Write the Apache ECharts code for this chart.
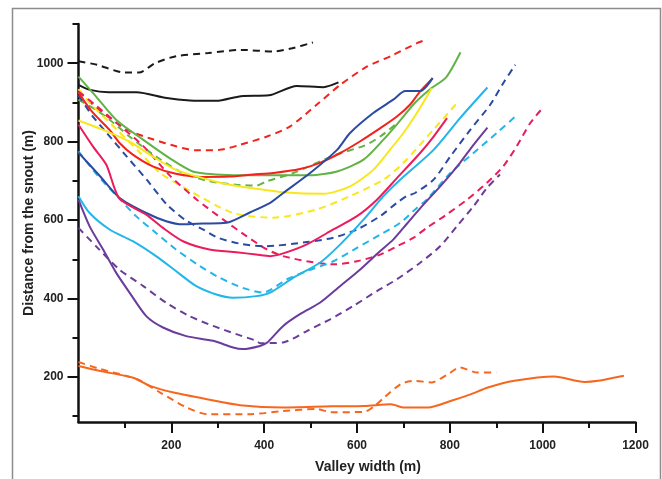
<!DOCTYPE html>
<html>
<head>
<meta charset="utf-8">
<script src="https://cdn.jsdelivr.net/npm/echarts@6/dist/echarts.min.js"></script>
<style>
  html, body { margin: 0; padding: 0; background: #fff; }
  #chart { width: 662px; height: 479px; }
</style>
</head>
<body>
<div id="chart"></div>
<script>
// axis ticks
const xMajor = [200, 400, 600, 800, 1000, 1200]
const xMinor = [100, 300, 500, 700, 900, 1100]
const yMajor = [200, 400, 600, 800, 1000]
const yMinor = [100, 300, 500, 700, 900, 1100]

// profiles: [valley width, distance from snout]
const blackDash = [[0,1005],[40,996],[100,976],[130,976],[165,1000],[210,1018],[280,1026],[350,1034],[420,1030],[460,1038],[505,1053]]
const blackSolid = [[0,945],[25,932],[65,926],[125,926],[190,911],[240,905],[297,904],[350,916],[410,918],[470,942],[528,939],[560,951]]
const redDash = [[0,928],[40,885],[83,847],[112,826],[160,806],[210,788],[253,778],[304,779],[348,792],[406,813],[456,839],[513,894],[564,945],[621,991],[678,1021],[729,1051],[752,1061]]
const redSolid = [[0,925],[30,875],[67,830],[89,796],[117,767],[160,737],[210,718],[268,710],[325,711],[376,716],[420,720],[477,730],[520,746],[564,771],[607,801],[651,835],[686,864],[714,894],[736,928],[763,962]]
const greenSolid = [[0,966],[38,915],[81,856],[139,805],[196,758],[246,724],[297,716],[348,714],[499,714],[557,724],[614,754],[657,805],[688,847],[724,898],[760,936],[792,964],[823,1028]]
const greenDash = [[0,907],[38,881],[67,856],[110,813],[167,762],[225,720],[282,699],[340,690],[383,688],[406,699],[463,720],[551,765],[616,790],[650,813],[684,845]]
const yellowSolid = [[0,854],[53,830],[110,800],[160,762],[210,728],[268,707],[325,690],[383,680],[441,671],[528,667],[585,686],[635,728],[671,779],[700,822],[730,875],[761,936]]
const yellowDash = [[0,934],[25,898],[83,830],[130,775],[176,720],[248,669],[333,618],[420,606],[513,627],[585,661],[657,703],[700,746],[765,831],[819,903]]
const blueSolid = [[0,772],[47,711],[88,657],[146,618],[189,597],[225,589],[268,591],[318,593],[370,620],[413,644],[441,669],[499,720],[557,779],[585,822],[635,873],[678,907],[704,929],[736,929],[763,962]]
const blueDash = [[0,918],[31,864],[61,822],[104,762],[147,703],[190,640],[230,600],[270,575],[300,555],[347,540],[400,533],[492,544],[549,555],[600,576],[650,610],[686,644],[707,661],[725,669],[765,703],[801,762],[844,830],[887,894],[915,949],[941,996]]
const crimsonSolid = [[0,843],[31,788],[60,741],[88,655],[146,614],[182,580],[225,546],[282,525],[340,518],[383,512],[413,508],[441,515],[492,538],[549,576],[600,610],[643,652],[686,707],[736,771],[765,813],[794,860]]
const crimsonDash = [[0,928],[40,890],[83,847],[140,788],[198,712],[255,652],[312,601],[362,559],[406,525],[441,508],[492,495],[549,487],[600,495],[650,512],[686,533],[722,555],[750,580],[793,614],[837,652],[880,695],[915,737],[944,788],[973,847],[998,883]]
const cyanSolid = [[0,661],[24,618],[67,576],[117,546],[167,508],[210,470],[253,432],[297,410],[333,402],[383,406],[413,415],[463,453],[520,491],[564,538],[614,601],[657,661],[693,703],[765,779],[822,860],[881,938]]
const cyanDash = [[0,775],[40,715],[83,661],[124,610],[167,567],[210,525],[261,483],[304,453],[354,427],[398,415],[449,449],[492,470],[549,495],[600,529],[650,563],[693,593],[729,631],[750,652],[801,720],[851,771],[901,822],[941,864]]
const purpleSolid = [[0,652],[24,584],[53,525],[81,466],[110,415],[146,355],[182,326],[232,304],[290,292],[333,275],[354,271],[391,279],[406,287],[441,330],[477,360],[520,389],[564,432],[607,474],[650,521],[678,550],[707,590],[736,630],[786,695],[822,746],[851,792],[881,836]]
const purpleDash = [[0,580],[38,533],[88,474],[139,432],[189,389],[239,355],[290,330],[340,309],[383,292],[391,286],[441,288],[492,317],[542,347],[592,381],[643,419],[686,449],[736,491],[779,533],[815,584],[851,635],[880,682],[908,716]]
const orangeSolid = [[0,228],[47,215],[118,198],[154,177],[205,160],[277,143],[348,128],[441,122],[544,125],[616,126],[673,130],[702,122],[753,122],[803,139],[846,156],[882,173],[939,190],[1025,201],[1090,187],[1119,190],[1175,203]]
const orangeDash = [[0,238],[47,220],[126,194],[176,160],[233,122],[277,105],[370,105],[441,113],[513,118],[544,110],[616,111],[638,126],[659,148],[695,182],[724,190],[760,186],[796,207],[821,224],[860,211],[900,211]]

const profiles = [
  { data: blackDash, color: '#1a1a1a', dashed: true },
  { data: blackSolid, color: '#1a1a1a', dashed: false },
  { data: redDash, color: '#f2231c', dashed: true },
  { data: greenDash, color: '#62b346', dashed: true },
  { data: yellowDash, color: '#f8e71c', dashed: true },
  { data: crimsonDash, color: '#ea1c5c', dashed: true },
  { data: blueDash, color: '#2b4ba3', dashed: true },
  { data: cyanDash, color: '#22b5ea', dashed: true },
  { data: purpleDash, color: '#6b3c9b', dashed: true },
  { data: orangeDash, color: '#f7661f', dashed: true },
  { data: greenSolid, color: '#62b346', dashed: false },
  { data: redSolid, color: '#f2231c', dashed: false },
  { data: yellowSolid, color: '#f8e71c', dashed: false },
  { data: blueSolid, color: '#2b4ba3', dashed: false },
  { data: crimsonSolid, color: '#ea1c5c', dashed: false },
  { data: cyanSolid, color: '#22b5ea', dashed: false },
  { data: purpleSolid, color: '#6b3c9b', dashed: false },
  { data: orangeSolid, color: '#f7661f', dashed: false }
]

const labelFont = { color: '#222', fontWeight: 'bold', fontSize: 12, fontFamily: 'Liberation Sans, Arial, sans-serif' }
const nameFont = { color: '#222', fontWeight: 'bold', fontSize: 14, fontFamily: 'Liberation Sans, Arial, sans-serif' }
const axisLineStyle = { color: '#111', width: 2.5 }
const plain = v => String(v)

const chart = echarts.init(document.getElementById('chart'))
chart.setOption({
  animation: false,
  backgroundColor: '#fff',
  graphic: [{
    type: 'rect',
    shape: { x: 12.5, y: 8.5, width: 648, height: 480 },
    style: { fill: 'none', stroke: '#8c8c8c', lineWidth: 1.5 },
    silent: true
  }],
  grid: { left: 78.5, right: 26.5, top: 24, bottom: 56 },
  xAxis: [{
    type: 'value', min: 0, max: 1200,
    axisLine: { show: true, lineStyle: axisLineStyle },
    axisTick: { show: true, length: 11, lineStyle: { color: '#111', width: 2 }, customValues: xMajor },
    axisLabel: { customValues: xMajor, margin: 18, formatter: plain, ...labelFont },
    splitLine: { show: false },
    name: 'Valley width (m)', nameLocation: 'middle', nameGap: 38, nameMoveOverlap: false,
    nameTextStyle: { ...nameFont, padding: [0, 0, 0, 22] }
  }, {
    type: 'value', min: 0, max: 1200, position: 'bottom',
    axisLine: { show: false },
    axisTick: { show: true, length: 6, lineStyle: { color: '#111', width: 2 }, customValues: xMinor },
    axisLabel: { show: false },
    splitLine: { show: false }
  }],
  yAxis: [{
    type: 'value', min: 85, max: 1100,
    axisLine: { show: true, lineStyle: axisLineStyle },
    axisTick: { show: true, length: 11, lineStyle: { color: '#111', width: 2 }, customValues: yMajor },
    axisLabel: { customValues: yMajor, margin: 15, formatter: plain, ...labelFont },
    splitLine: { show: false },
    name: 'Distance from the snout (m)', nameLocation: 'middle', nameGap: 42, nameMoveOverlap: false,
    nameTextStyle: nameFont
  }, {
    type: 'value', min: 85, max: 1100, position: 'left',
    axisLine: { show: false },
    axisTick: { show: true, length: 6, lineStyle: { color: '#111', width: 2 }, customValues: yMinor },
    axisLabel: { show: false },
    splitLine: { show: false }
  }],
  series: profiles.map(p => ({
    type: 'line',
    data: p.data,
    showSymbol: false,
    smooth: 0.25,
    silent: true,
    lineStyle: { color: p.color, width: 2, type: p.dashed ? [7, 5] : 'solid' }
  }))
})
</script>
</body>
</html>
